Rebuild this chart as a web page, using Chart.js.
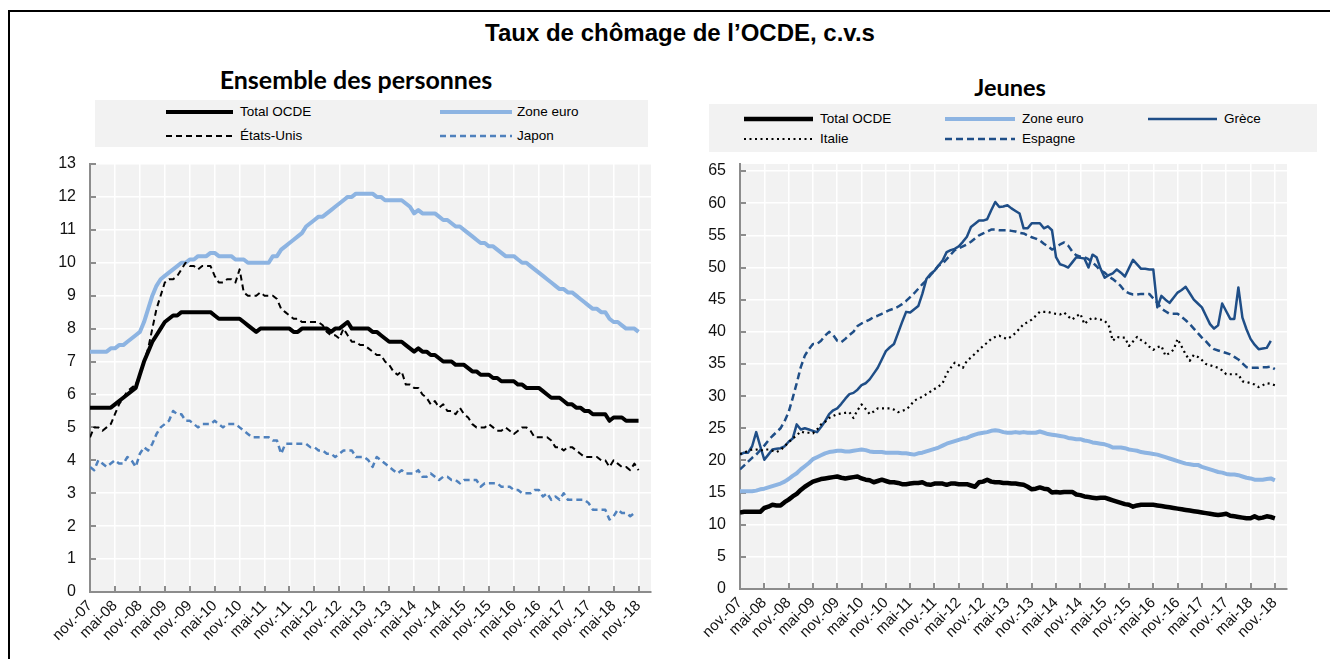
<!DOCTYPE html>
<html lang="fr">
<head>
<meta charset="utf-8">
<title>Taux de chômage de l'OCDE, c.v.s</title>
<script src="https://cdn.jsdelivr.net/npm/chart.js@4.4.1/dist/chart.umd.min.js"></script>
<style>
  html, body { margin: 0; padding: 0; background: #fff; }
  body { width: 1330px; height: 659px; position: relative; overflow: hidden; font-family: "Liberation Sans", Arial, sans-serif; color: #000; }
  .frame { position: absolute; left: 8px; top: 10px; width: 1340px; height: 700px; border: 2px solid #000; box-sizing: border-box; }
  .title { position: absolute; left: 0; width: 1360px; top: 19px; text-align: center; font-weight: bold; font-size: 24px; line-height: 28px; }
  .subtitle { position: absolute; text-align: center; font-family: Lato, "Open Sans", sans-serif; font-weight: bold; line-height: 30px; }
  .legend-box { position: absolute; background: #f2f2f2; }
  .lg-text { position: absolute; font-size: 13.5px; line-height: 16px; white-space: nowrap; }
  canvas { position: absolute; }
</style>
</head>
<body>
<div class="frame"></div>
<div class="title">Taux de chômage de l’OCDE, c.v.s</div>
<div class="subtitle" style="left:156px; width:400px; top:64px; font-size:25px;">Ensemble des personnes</div>
<div class="subtitle" style="left:910px; width:200px; top:72px; font-size:23.5px;">Jeunes</div>
<div class="legend-box" style="left:95px; top:100px; width:553px; height:47px;"></div>
<div class="legend-box" style="left:709px; top:104px; width:608px; height:48px;"></div>
<canvas id="chartEnsemble" width="620" height="510" style="left:40px; top:150px;"></canvas>
<canvas id="chartJeunes" width="610" height="510" style="left:690px; top:150px;"></canvas>

<script>
"use strict";

// Étiquettes de l'axe des x (un repère tous les 6 mois)
const tickLabels = ["nov.-07", "mai-08", "nov.-08", "mai-09", "nov.-09", "mai-10", "nov.-10", "mai-11",
    "nov.-11", "mai-12", "nov.-12", "mai-13", "nov.-13", "mai-14", "nov.-14", "mai-15", "nov.-15",
    "mai-16", "nov.-16", "mai-17", "nov.-17", "mai-18", "nov.-18"];

// Données mensuelles, de nov. 2007 à nov. 2018 (une ligne = 12 mois)
// --- Ensemble des personnes ---
const totalOcde = [
    5.6, 5.6, 5.6, 5.6, 5.6, 5.6, 5.7, 5.8, 5.9, 6.0, 6.1, 6.2,
    6.6, 7.0, 7.3, 7.6, 7.8, 8.0, 8.2, 8.3, 8.4, 8.4, 8.5, 8.5,
    8.5, 8.5, 8.5, 8.5, 8.5, 8.5, 8.4, 8.3, 8.3, 8.3, 8.3, 8.3,
    8.3, 8.2, 8.1, 8.0, 7.9, 8.0, 8.0, 8.0, 8.0, 8.0, 8.0, 8.0,
    8.0, 7.9, 7.9, 8.0, 8.0, 8.0, 8.0, 8.0, 8.0, 8.0, 7.9, 8.0,
    8.0, 8.1, 8.2, 8.0, 8.0, 8.0, 8.0, 8.0, 7.9, 7.9, 7.8, 7.7,
    7.6, 7.6, 7.6, 7.6, 7.5, 7.4, 7.3, 7.4, 7.3, 7.3, 7.2, 7.2,
    7.1, 7.0, 7.0, 7.0, 6.9, 6.9, 6.9, 6.8, 6.7, 6.7, 6.6, 6.6,
    6.6, 6.5, 6.5, 6.4, 6.4, 6.4, 6.4, 6.3, 6.3, 6.2, 6.2, 6.2,
    6.2, 6.1, 6.0, 5.9, 5.9, 5.9, 5.8, 5.7, 5.7, 5.6, 5.6, 5.5,
    5.5, 5.4, 5.4, 5.4, 5.4, 5.2, 5.3, 5.3, 5.3, 5.2, 5.2, 5.2,
    5.2
];
const zoneEuro = [
    7.3, 7.3, 7.3, 7.3, 7.3, 7.4, 7.4, 7.5, 7.5, 7.6, 7.7, 7.8,
    7.9, 8.2, 8.6, 9.0, 9.3, 9.5, 9.6, 9.7, 9.8, 9.9, 10.0, 10.0,
    10.1, 10.1, 10.2, 10.2, 10.2, 10.3, 10.3, 10.2, 10.2, 10.2, 10.2, 10.1,
    10.1, 10.1, 10.0, 10.0, 10.0, 10.0, 10.0, 10.0, 10.2, 10.2, 10.4, 10.5,
    10.6, 10.7, 10.8, 10.9, 11.1, 11.2, 11.3, 11.4, 11.4, 11.5, 11.6, 11.7,
    11.8, 11.9, 12.0, 12.0, 12.1, 12.1, 12.1, 12.1, 12.1, 12.0, 12.0, 11.9,
    11.9, 11.9, 11.9, 11.9, 11.8, 11.7, 11.5, 11.6, 11.5, 11.5, 11.5, 11.5,
    11.4, 11.3, 11.3, 11.2, 11.1, 11.1, 11.0, 10.9, 10.8, 10.7, 10.6, 10.6,
    10.5, 10.5, 10.4, 10.3, 10.2, 10.2, 10.2, 10.1, 10.0, 10.0, 9.9, 9.8,
    9.7, 9.6, 9.5, 9.4, 9.3, 9.2, 9.2, 9.1, 9.1, 9.0, 8.9, 8.8,
    8.7, 8.6, 8.6, 8.5, 8.5, 8.3, 8.2, 8.2, 8.1, 8.0, 8.0, 8.0,
    7.9
];
const etatsUnis = [
    4.7, 5.0, 5.0, 4.9, 5.0, 5.1, 5.4, 5.7, 5.9, 6.1, 6.2, 6.3,
    6.6, 7.0, 7.4, 8.0, 8.6, 9.0, 9.4, 9.5, 9.5, 9.6, 9.8, 10.0,
    9.9, 9.9, 9.8, 9.9, 9.9, 9.9, 9.6, 9.4, 9.4, 9.5, 9.5, 9.4,
    9.8, 9.1, 9.0, 9.0, 9.0, 9.1, 9.0, 9.0, 9.0, 8.9, 8.6, 8.5,
    8.4, 8.3, 8.3, 8.2, 8.2, 8.2, 8.2, 8.2, 8.1, 7.9, 7.8, 7.8,
    7.7, 8.0, 7.8, 7.6, 7.6, 7.5, 7.5, 7.4, 7.3, 7.2, 7.2, 7.0,
    6.9, 6.7, 6.6, 6.7, 6.3, 6.3, 6.2, 6.2, 6.0, 5.9, 5.7, 5.8,
    5.6, 5.7, 5.5, 5.5, 5.4, 5.6, 5.4, 5.3, 5.1, 5.0, 5.0, 5.0,
    5.1, 5.0, 4.9, 4.9, 5.0, 4.9, 4.8, 4.9, 5.0, 5.0, 4.9, 4.7,
    4.7, 4.7, 4.7, 4.6, 4.4, 4.4, 4.3, 4.4, 4.4, 4.3, 4.2, 4.1,
    4.1, 4.1, 4.1, 4.0, 4.0, 3.8, 4.0, 3.9, 3.8, 3.8, 3.7, 3.9,
    3.7
];
const japon = [
    3.8, 3.7, 4.0, 3.9, 3.8, 3.9, 4.0, 3.9, 3.9, 4.1, 4.0, 3.8,
    4.2, 4.4, 4.3, 4.5, 4.8, 5.0, 5.1, 5.2, 5.5, 5.4, 5.4, 5.2,
    5.2, 5.1, 5.0, 5.1, 5.1, 5.1, 5.2, 5.1, 5.0, 5.1, 5.1, 5.1,
    5.0, 4.9, 4.8, 4.7, 4.7, 4.7, 4.7, 4.7, 4.6, 4.6, 4.2, 4.5,
    4.5, 4.5, 4.5, 4.5, 4.5, 4.4, 4.4, 4.3, 4.3, 4.2, 4.2, 4.1,
    4.2, 4.3, 4.3, 4.3, 4.1, 4.1, 4.1, 4.0, 3.8, 4.1, 4.0, 3.9,
    3.8, 3.7, 3.6, 3.7, 3.6, 3.6, 3.6, 3.7, 3.5, 3.5, 3.6, 3.5,
    3.4, 3.5, 3.5, 3.4, 3.4, 3.3, 3.4, 3.4, 3.4, 3.4, 3.2, 3.3,
    3.3, 3.3, 3.3, 3.2, 3.2, 3.2, 3.1, 3.1, 3.0, 3.0, 3.0, 3.1,
    3.1, 2.9, 3.0, 2.8, 2.9, 2.8, 3.0, 2.8, 2.8, 2.8, 2.8, 2.8,
    2.7, 2.5, 2.5, 2.5, 2.5, 2.2, 2.3, 2.5, 2.4, 2.4, 2.3, 2.4,
    null
];

// --- Jeunes ---
const jeunesTotalOcde = [
    11.9, 12.0, 12.0, 12.0, 12.0, 12.0, 12.6, 12.8, 13.1, 13.0, 13.0, 13.5,
    13.9, 14.4, 14.8, 15.4, 15.9, 16.3, 16.7, 16.9, 17.1, 17.2, 17.3, 17.4,
    17.5, 17.3, 17.2, 17.3, 17.4, 17.5, 17.2, 17.0, 16.9, 16.6, 16.8, 17.0,
    16.8, 16.6, 16.6, 16.5, 16.3, 16.3, 16.4, 16.5, 16.5, 16.6, 16.3, 16.2,
    16.4, 16.4, 16.4, 16.2, 16.4, 16.4, 16.3, 16.3, 16.3, 16.1, 15.9, 16.6,
    16.7, 17.0, 16.7, 16.6, 16.6, 16.5, 16.5, 16.4, 16.4, 16.3, 16.2, 15.9,
    15.5, 15.6, 15.8, 15.6, 15.5, 15.0, 15.1, 15.0, 15.1, 15.1, 15.1, 14.7,
    14.6, 14.4, 14.3, 14.2, 14.1, 14.2, 14.2, 14.0, 13.8, 13.6, 13.4, 13.2,
    13.1, 12.8, 13.0, 13.1, 13.1, 13.1, 13.1, 13.0, 12.9, 12.8, 12.7, 12.6,
    12.5, 12.4, 12.3, 12.2, 12.1, 12.0, 11.9, 11.8, 11.7, 11.6, 11.5, 11.6,
    11.7, 11.4, 11.3, 11.2, 11.1, 11.0, 11.0, 11.3, 11.0, 11.1, 11.3, 11.2,
    11.0
];
const jeunesZoneEuro = [
    15.2, 15.2, 15.2, 15.2, 15.3, 15.5, 15.6, 15.8, 16.0, 16.2, 16.4, 16.7,
    17.1, 17.6, 18.0, 18.6, 19.1, 19.6, 20.2, 20.5, 20.8, 21.1, 21.3, 21.4,
    21.5, 21.5, 21.4, 21.4, 21.5, 21.6, 21.7, 21.6, 21.4, 21.3, 21.3, 21.3,
    21.2, 21.2, 21.2, 21.2, 21.1, 21.1, 21.0, 20.9, 21.1, 21.2, 21.4, 21.6,
    21.8, 22.0, 22.3, 22.6, 22.8, 23.0, 23.2, 23.4, 23.5, 23.8, 24.0, 24.2,
    24.3, 24.4, 24.6, 24.7, 24.6, 24.4, 24.3, 24.3, 24.4, 24.3, 24.4, 24.3,
    24.3, 24.3, 24.5, 24.3, 24.1, 24.0, 23.9, 23.8, 23.7, 23.5, 23.4, 23.3,
    23.3, 23.1, 23.0, 22.8, 22.7, 22.6, 22.5, 22.3, 22.0, 22.0, 22.0, 21.9,
    21.7, 21.6, 21.5, 21.3, 21.2, 21.1, 21.0, 20.9, 20.7, 20.5, 20.3, 20.1,
    19.9, 19.7, 19.5, 19.4, 19.3, 19.3, 19.0, 18.8, 18.6, 18.4, 18.2, 18.1,
    17.9, 17.8, 17.8, 17.7, 17.5, 17.3, 17.2, 17.0, 17.0, 17.0, 17.1, 17.2,
    16.9
];
const grece = [
    20.9, 21.2, 21.2, 22.2, 24.4, 22.2, 20.1, 20.9, 21.7, 21.8, 21.9, 22.2,
    22.9, 23.4, 25.6, 24.8, 25.0, 24.8, 24.6, 24.4, 25.2, 26.1, 27.2, 27.8,
    28.1, 28.8, 29.6, 30.3, 30.5, 31.0, 31.7, 32.0, 32.6, 33.5, 34.4, 35.7,
    37.0, 37.6, 38.1, 39.8, 41.5, 43.1, 43.0, 43.5, 44.0, 45.9, 48.2, 49.0,
    49.5, 50.3, 51.1, 52.4, 52.7, 52.9, 53.3, 54.0, 54.8, 56.3, 56.8, 57.3,
    57.3, 57.5, 58.9, 60.2, 59.4, 59.5, 59.7, 59.2, 58.8, 58.4, 56.1, 56.1,
    56.9, 56.9, 56.9, 56.1, 56.4, 55.8, 51.6, 50.5, 50.3, 50.0, 50.8, 51.6,
    51.5, 51.4, 50.0, 52.0, 51.6, 49.8, 48.4, 48.8, 49.1, 49.7, 49.2, 48.6,
    49.9, 51.2, 50.5, 49.8, 49.8, 49.7, 49.7, 43.8, 45.6, 45.0, 44.5, 45.3,
    46.1, 46.5, 47.0, 46.0, 45.0, 44.4, 43.8, 42.5, 41.2, 40.5, 41.0, 44.4,
    43.2, 42.0, 42.0, 46.9, 42.2, 40.4, 38.9, 38.0, 37.3, 37.4, 37.5, 38.6,
    null
];
const italie = [
    21.0, 21.2, 21.5, 21.7, 21.7, 21.5, 21.7, 21.7, 21.5, 21.3, 21.6, 22.2,
    22.8, 23.4, 23.9, 24.5, 24.3, 24.3, 24.2, 24.8, 25.6, 26.0, 26.6, 26.9,
    27.2, 27.3, 27.4, 27.5, 26.6, 27.8, 28.7, 28.0, 27.2, 27.6, 28.1, 28.1,
    28.1, 28.1, 27.9, 27.5, 27.7, 27.9, 28.5, 29.3, 29.6, 29.9, 30.3, 30.7,
    31.1, 31.5, 32.0, 33.5, 34.4, 35.2, 34.8, 34.4, 35.5, 36.0, 36.6, 37.2,
    37.8, 38.3, 38.9, 39.2, 39.4, 39.1, 38.9, 39.3, 39.8, 40.5, 41.2, 41.5,
    41.9, 42.5, 43.1, 43.1, 43.1, 42.9, 42.8, 42.7, 43.0, 42.4, 41.9, 42.4,
    42.8, 41.2, 41.8, 42.2, 42.0, 41.9, 41.7, 41.0, 38.6, 39.2, 39.1, 39.1,
    37.8, 38.5, 39.2, 38.7, 38.3, 37.7, 37.2, 37.6, 37.8, 36.3, 36.7, 37.2,
    38.9, 37.7, 36.5, 35.5, 36.4, 36.1, 35.6, 35.0, 34.8, 34.6, 34.4, 34.0,
    33.4, 33.4, 33.4, 33.4, 32.3, 32.2, 32.0, 31.8, 31.4, 31.7, 32.0, 31.9,
    31.7
];
const espagne = [
    18.6, 19.2, 19.8, 20.4, 20.9, 21.6, 22.3, 23.1, 23.8, 24.4, 25.0, 26.1,
    27.5, 29.7, 32.0, 34.5, 36.3, 37.3, 38.1, 38.1, 38.6, 39.4, 40.0, 39.5,
    38.6, 38.4, 38.9, 39.5, 40.0, 40.9, 41.3, 41.6, 41.9, 42.3, 42.5, 42.8,
    43.1, 43.4, 43.6, 43.9, 44.3, 44.8, 45.4, 46.0, 46.7, 47.4, 48.0, 48.8,
    49.5, 50.3, 50.6, 51.3, 52.0, 52.7, 53.0, 53.3, 53.6, 54.0, 54.5, 55.0,
    55.3, 55.6, 55.9, 55.9, 55.8, 55.8, 55.8, 55.7, 55.6, 55.4, 55.3, 55.0,
    54.7, 54.5, 54.2, 53.7, 53.3, 52.8, 53.1, 53.6, 53.9, 53.4, 52.5, 51.9,
    51.7, 51.6, 51.3, 50.8, 50.2, 49.5, 49.2, 48.6, 48.2, 47.7, 47.1, 46.3,
    46.0, 45.8, 45.8, 45.9, 45.9, 45.9, 45.2, 44.5, 43.6, 43.2, 42.8, 42.8,
    42.8, 42.3, 41.8, 41.2, 40.5, 39.8, 39.1, 38.5, 37.8, 37.3, 37.1, 36.9,
    36.7, 36.5, 36.1, 35.7, 35.1, 34.5, 34.4, 34.4, 34.4, 34.5, 34.5, 34.6,
    34.2
];

const FONT = "'Liberation Sans', Arial, sans-serif";
const BLACK = "#000000";
const LIGHT_BLUE = "#8db4e2";
const MID_BLUE = "#4f81bd";
const DARK_BLUE = "#1f4e87";

// Séries de chaque graphique (ordre de dessin : la dernière est au-dessus)
const seriesEnsemble = [
    { label: "Japon", data: japon, color: MID_BLUE, width: 2.5, dash: [6, 4] },
    { label: "États-Unis", data: etatsUnis, color: BLACK, width: 2, dash: [6, 4] },
    { label: "Zone euro", data: zoneEuro, color: LIGHT_BLUE, width: 4, dash: [] },
    { label: "Total OCDE", data: totalOcde, color: BLACK, width: 4, dash: [] }
];
const seriesJeunes = [
    { label: "Zone euro", data: jeunesZoneEuro, color: LIGHT_BLUE, width: 4, dash: [] },
    { label: "Total OCDE", data: jeunesTotalOcde, color: BLACK, width: 4.5, dash: [] },
    { label: "Italie", data: italie, color: BLACK, width: 2.2, dash: [2, 3.5] },
    { label: "Espagne", data: espagne, color: DARK_BLUE, width: 2.5, dash: [7, 4] },
    { label: "Grèce", data: grece, color: DARK_BLUE, width: 2.5, dash: [] }
];

// Légendes HTML (position des échantillons et des textes)
const legendEnsemble = [
    { label: "Total OCDE", x1: 166, x2: 233, y: 112, tx: 240 },
    { label: "Zone euro", x1: 440, x2: 512, y: 112, tx: 517 },
    { label: "États-Unis", x1: 166, x2: 233, y: 136, tx: 240 },
    { label: "Japon", x1: 440, x2: 512, y: 136, tx: 517 }
];
const legendJeunes = [
    { label: "Total OCDE", x1: 744, x2: 813, y: 119, tx: 820 },
    { label: "Zone euro", x1: 945, x2: 1015, y: 119, tx: 1022 },
    { label: "Grèce", x1: 1148, x2: 1217, y: 119, tx: 1224 },
    { label: "Italie", x1: 744, x2: 813, y: 139, tx: 820 },
    { label: "Espagne", x1: 945, x2: 1015, y: 139, tx: 1022 }
];

function construireLegende(items, series) {
    items.forEach(item => {
        const s = series.find(serie => serie.label === item.label);
        const w = item.x2 - item.x1;
        const svg = document.createElementNS("http://www.w3.org/2000/svg", "svg");
        svg.setAttribute("width", w);
        svg.setAttribute("height", 12);
        svg.style.position = "absolute";
        svg.style.left = item.x1 + "px";
        svg.style.top = (item.y - 6) + "px";
        const line = document.createElementNS("http://www.w3.org/2000/svg", "line");
        line.setAttribute("x1", 0);
        line.setAttribute("x2", w);
        line.setAttribute("y1", 6);
        line.setAttribute("y2", 6);
        line.setAttribute("stroke", s.color);
        line.setAttribute("stroke-width", s.width);
        if (s.dash.length) line.setAttribute("stroke-dasharray", s.dash.join(" "));
        svg.appendChild(line);
        document.body.appendChild(svg);

        const txt = document.createElement("div");
        txt.className = "lg-text";
        txt.textContent = item.label;
        txt.style.left = item.tx + "px";
        txt.style.top = (item.y - 8) + "px";
        document.body.appendChild(txt);
    });
}

// Fond gris de la zone de tracé et petites graduations intérieures
const decorPlugin = {
    id: "decor",
    beforeDraw(chart) {
        const { ctx, chartArea: a } = chart;
        ctx.save();
        ctx.fillStyle = "#f2f2f2";
        ctx.fillRect(a.left, a.top, a.right - a.left, a.bottom - a.top);
        ctx.restore();
    },
    beforeDatasetsDraw(chart) {
        const { ctx, chartArea: a, scales } = chart;
        ctx.save();
        ctx.strokeStyle = "#8c8c8c";
        ctx.lineWidth = 2;
        scales.x.ticks.forEach((t, i) => {
            const x = Math.round(scales.x.getPixelForTick(i));
            ctx.beginPath();
            ctx.moveTo(x, a.bottom);
            ctx.lineTo(x, a.bottom - 6);
            ctx.stroke();
        });
        scales.y.ticks.forEach((t, i) => {
            const y = Math.round(scales.y.getPixelForTick(i));
            ctx.beginPath();
            ctx.moveTo(a.left, y);
            ctx.lineTo(a.left + 6, y);
            ctx.stroke();
        });
        ctx.restore();
    }
};

function creerGraphique(id, series, yMax, yStep, geo) {
    const ctx = document.getElementById(id).getContext("2d");
    return new Chart(ctx, {
        type: "line",
        data: {
            datasets: series.map(s => ({
                label: s.label,
                data: s.data.map((v, i) => ({ x: i, y: v })),
                borderColor: s.color,
                borderWidth: s.width,
                borderDash: s.dash,
                borderJoinStyle: "round",
                pointRadius: 0,
                fill: false,
                tension: 0
            }))
        },
        options: {
            responsive: false,
            animation: false,
            devicePixelRatio: 1,
            layout: { padding: { top: geo.top, right: geo.right, left: 0, bottom: 0 } },
            plugins: { legend: { display: false }, tooltip: { enabled: false } },
            scales: {
                x: {
                    type: "linear",
                    min: 0,
                    max: 135,
                    afterFit: scale => { scale.height = geo.xHeight; },
                    grid: { color: "#ffffff", lineWidth: 1.5, drawTicks: false },
                    border: { color: "#8c8c8c", width: 2 },
                    ticks: {
                        stepSize: 6,
                        includeBounds: false,
                        autoSkip: false,
                        minRotation: 45,
                        maxRotation: 45,
                        padding: 5,
                        color: "#111",
                        font: { family: FONT, size: 15 },
                        callback: v => tickLabels[Math.round(v / 6)]
                    }
                },
                y: {
                    min: 0,
                    max: yMax,
                    afterFit: scale => {
                        scale.width = 50;
                        scale.paddingTop = 0;
                        scale.paddingBottom = 0;
                    },
                    grid: { color: "#ffffff", lineWidth: 1.5, drawTicks: false },
                    border: { color: "#8c8c8c", width: 2 },
                    ticks: {
                        stepSize: yStep,
                        includeBounds: false,
                        padding: 14,
                        color: "#111",
                        font: { family: FONT, size: 16 }
                    }
                }
            }
        },
        plugins: [decorPlugin]
    });
}

construireLegende(legendEnsemble, seriesEnsemble);
construireLegende(legendJeunes, seriesJeunes);

creerGraphique("chartEnsemble", seriesEnsemble, 13, 1, { top: 14, right: 9, xHeight: 68 });
creerGraphique("chartJeunes", seriesJeunes, 66.1, 5, { top: 14, right: 13, xHeight: 71 });
</script>
</body>
</html>
